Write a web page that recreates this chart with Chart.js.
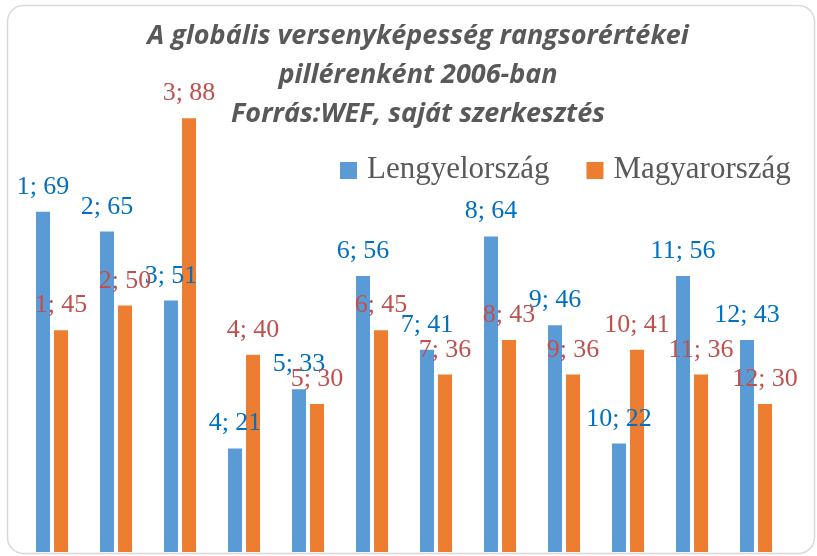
<!DOCTYPE html>
<html>
<head>
<meta charset="utf-8">
<script src="https://cdn.jsdelivr.net/npm/chart.js@4.4.1/dist/chart.umd.min.js"></script>
<style>
  html, body { margin: 0; padding: 0; background: #ffffff; }
  #wrap { width: 817px; height: 556px; position: relative; }
</style>
</head>
<body>
<div id="wrap"><canvas id="chart" width="817" height="556"></canvas></div>
<script>
// Pillars of the Global Competitiveness Index (1-12), ranking values for 2006
const pillars = ['1', '2', '3', '4', '5', '6', '7', '8', '9', '10', '11', '12'];
const poland = [69, 65, 51, 21, 33, 56, 41, 64, 46, 22, 56, 43];
const hungary = [45, 50, 88, 40, 30, 45, 36, 43, 36, 41, 36, 30];
const seriesNames = ['Lengyelország', 'Magyarország'];
const titleLines = [
  'A globális versenyképesség rangsorértékei',
  'pillérenként 2006-ban',
  'Forrás:WEF, saját szerkesztés'
];

const barColors = ['#5B9BD5', '#ED7D31'];
const labelColors = ['#0070C0', '#C0504D'];

// White background plus the rounded frame around the whole chart
const framePlugin = {
  id: 'frame',
  beforeDraw(chart) {
    const ctx = chart.ctx;
    ctx.save();
    ctx.fillStyle = '#ffffff';
    ctx.fillRect(0, 0, chart.width, chart.height);
    const x = 7.5, y = 5.5, w = 807, h = 548, r = 16;
    ctx.beginPath();
    ctx.moveTo(x + r, y);
    ctx.lineTo(x + w - r, y);
    ctx.arcTo(x + w, y, x + w, y + r, r);
    ctx.lineTo(x + w, y + h - r);
    ctx.arcTo(x + w, y + h, x + w - r, y + h, r);
    ctx.lineTo(x + r, y + h);
    ctx.arcTo(x, y + h, x, y + h - r, r);
    ctx.lineTo(x, y + r);
    ctx.arcTo(x, y, x + r, y, r);
    ctx.closePath();
    ctx.strokeStyle = '#d9d9d9';
    ctx.lineWidth = 1.5;
    ctx.stroke();
    ctx.restore();
  }
};

// "pillar; value" labels above every bar
const valueLabelPlugin = {
  id: 'valueLabels',
  afterDatasetsDraw(chart) {
    const ctx = chart.ctx;
    ctx.save();
    ctx.font = '26px "Liberation Serif", "Times New Roman", serif';
    ctx.textAlign = 'center';
    ctx.textBaseline = 'alphabetic';
    chart.data.datasets.forEach((ds, di) => {
      const meta = chart.getDatasetMeta(di);
      ctx.fillStyle = labelColors[di];
      meta.data.forEach((bar, i) => {
        const text = chart.data.labels[i] + '; ' + ds.data[i];
        ctx.fillText(text, bar.x, bar.y - 18);
      });
    });
    ctx.restore();
  }
};

// Title (three lines) and the legend in the upper right
const headerPlugin = {
  id: 'header',
  afterDraw(chart) {
    const ctx = chart.ctx;
    ctx.save();
    ctx.fillStyle = '#595959';
    ctx.font = 'italic bold 27px "Open Sans", Lato, sans-serif';
    ctx.textAlign = 'center';
    ctx.textBaseline = 'alphabetic';
    const baselines = [44, 83, 122];
    titleLines.forEach((line, i) => ctx.fillText(line, 418, baselines[i]));

    ctx.font = '31px "Liberation Serif", "Times New Roman", serif';
    ctx.textAlign = 'left';
    let x = 340;
    chart.data.datasets.forEach((ds) => {
      ctx.fillStyle = ds.backgroundColor;
      ctx.fillRect(x, 162, 17, 17);
      ctx.fillStyle = '#595959';
      ctx.fillText(ds.label, x + 27, 178);
      x += 27 + ctx.measureText(ds.label).width + 37;
    });
    ctx.restore();
  }
};

new Chart(document.getElementById('chart'), {
  type: 'bar',
  data: {
    labels: pillars,
    datasets: [
      { label: seriesNames[0], data: poland, backgroundColor: barColors[0] },
      { label: seriesNames[1], data: hungary, backgroundColor: barColors[1] }
    ]
  },
  options: {
    responsive: false,
    animation: false,
    events: [],
    layout: { padding: { left: 20, right: 29, top: 59, bottom: 4 } },
    datasets: {
      bar: { categoryPercentage: 0.5625, barPercentage: 0.778 }
    },
    scales: {
      x: { display: false, grid: { display: false } },
      y: { display: false, min: 0, max: 100, grid: { display: false } }
    },
    plugins: {
      legend: { display: false },
      title: { display: false },
      tooltip: { enabled: false }
    }
  },
  plugins: [framePlugin, valueLabelPlugin, headerPlugin]
});
</script>
</body>
</html>
